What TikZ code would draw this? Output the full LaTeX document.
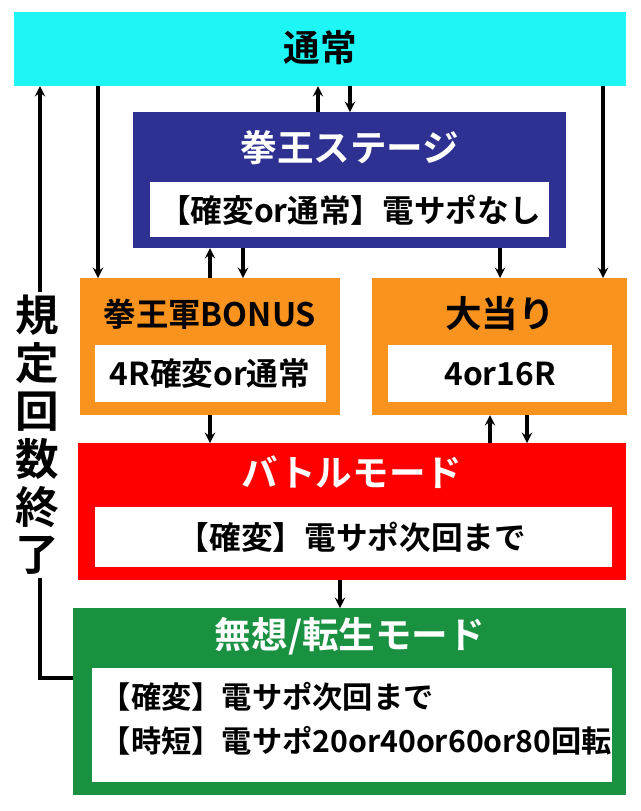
\documentclass[tikz,border=0pt]{standalone}
\usepackage{fontspec}
\setmainfont{Noto Sans CJK JP}[BoldFont={* Bold}]
\usetikzlibrary{calc}
\usetikzlibrary{shapes.geometric, arrows}
\definecolor{ccyan}{HTML}{1EF5F5}
\definecolor{cnavy}{HTML}{2E3192}
\definecolor{corange}{HTML}{F7931E}
\definecolor{cred}{HTML}{FF0000}
\definecolor{cgreen}{HTML}{1A9141}
\tikzstyle{rect} = [
    rectangle,
    anchor=north west,
    inner sep=0pt,
    outer sep=0pt,
]
\tikzstyle{wrect} = [rect, fill=white]
\tikzstyle{title} = [font=\bfseries\fontsize{26}{28}\selectfont]
\tikzstyle{body} = [font=\bfseries\fontsize{22.5}{30}\selectfont]
\tikzstyle{arrow} = [line width=2.2pt,->,>=stealth]
\begin{document}
\begin{tikzpicture}[x=0.025cm,y=-0.025cm]
    \useasboundingbox (0,0) rectangle (640,811);
    % boxes
    \node (nm) [rect, fill=ccyan, minimum width=15.3cm, minimum height=1.85cm] at (14,12) {};
    \node (st) [rect, fill=cnavy, minimum width=10.825cm, minimum height=3.4cm] at (133,112) {};
    \node (bo) [rect, fill=corange, minimum width=6.5cm, minimum height=3.425cm] at (80,278) {};
    \node (oa) [rect, fill=corange, minimum width=6.375cm, minimum height=3.425cm] at (372,278) {};
    \node (bt) [rect, fill=cred, minimum width=13.7cm, minimum height=3.425cm] at (78,443) {};
    \node (ms) [rect, fill=cgreen, minimum width=13.825cm, minimum height=4.675cm] at (73,608) {};
    % inner boxes
    \node [wrect, minimum width=9.975cm, minimum height=1.375cm] at (150,182) {};
    \node [wrect, minimum width=5.775cm, minimum height=1.425cm] at (95,345) {};
    \node [wrect, minimum width=5.6cm, minimum height=1.425cm] at (388,345) {};
    \node [wrect, minimum width=12.925cm, minimum height=1.5cm] at (95,507) {};
    \node [wrect, minimum width=13cm, minimum height=2.85cm] at (92,668) {};
    % texts
    \node [title] at (320,48) {通常};
    \node [title, white] at (350,148) {拳王ステージ};
    \node [body] at (350,210) {【確変or通常】電サポなし};
    \node [title, font=\bfseries\fontsize{23}{26}\selectfont] at (210,314) {拳王軍BONUS};
    \node [body] at (210,374) {4R確変or通常};
    \node [title] at (500,314) {大当り};
    \node [body] at (500,374) {4or16R};
    \node [title, white] at (352,472) {バトルモード};
    \node [body] at (352,537) {【確変】電サポ次回まで};
    \node [title, white] at (350,636) {無想/転生モード};
    \node [body, anchor=west, align=left, font=\bfseries\fontsize{21.5}{31}\selectfont] at (96,719) {【確変】電サポ次回まで\\【時短】電サポ20or40or60or80回転};

    % arrows
    \path [arrow]
        (nm.south -| 98,0) edge (bo.north -| 98,0)
        (nm.south -| 603,0) edge (oa.north -| 603,0)
        (st.north -| 318,0) edge (nm.south -| 318,0)
        (nm.south -| 350,0) edge (st.north -| 350,0)
        (bo.north -| 210,0) edge (st.south -| 210,0)
        (st.south -| 243,0) edge (bo.north -| 243,0)
        (st.south -| 500,0) edge (oa.north -| 500,0)
        (bo.south -| 210,0) edge (bt.north -| 210,0)
        (bt.north -| 490,0) edge (oa.south -| 490,0)
        (oa.south -| 527,0) edge (bt.north -| 527,0)
        (bt.south -| 340,0) edge (ms.north -| 340,0);
    \coordinate (lc) at (40,678);
    \draw [arrow] (ms.west |- lc) -- (lc) -- (nm.south -| lc);
    \node [fill=white, inner sep=2pt, align=center, font=\bfseries\fontsize{31}{34}\selectfont] at (37,435) {規\\定\\回\\数\\終\\了};
\end{tikzpicture}
\end{document}
